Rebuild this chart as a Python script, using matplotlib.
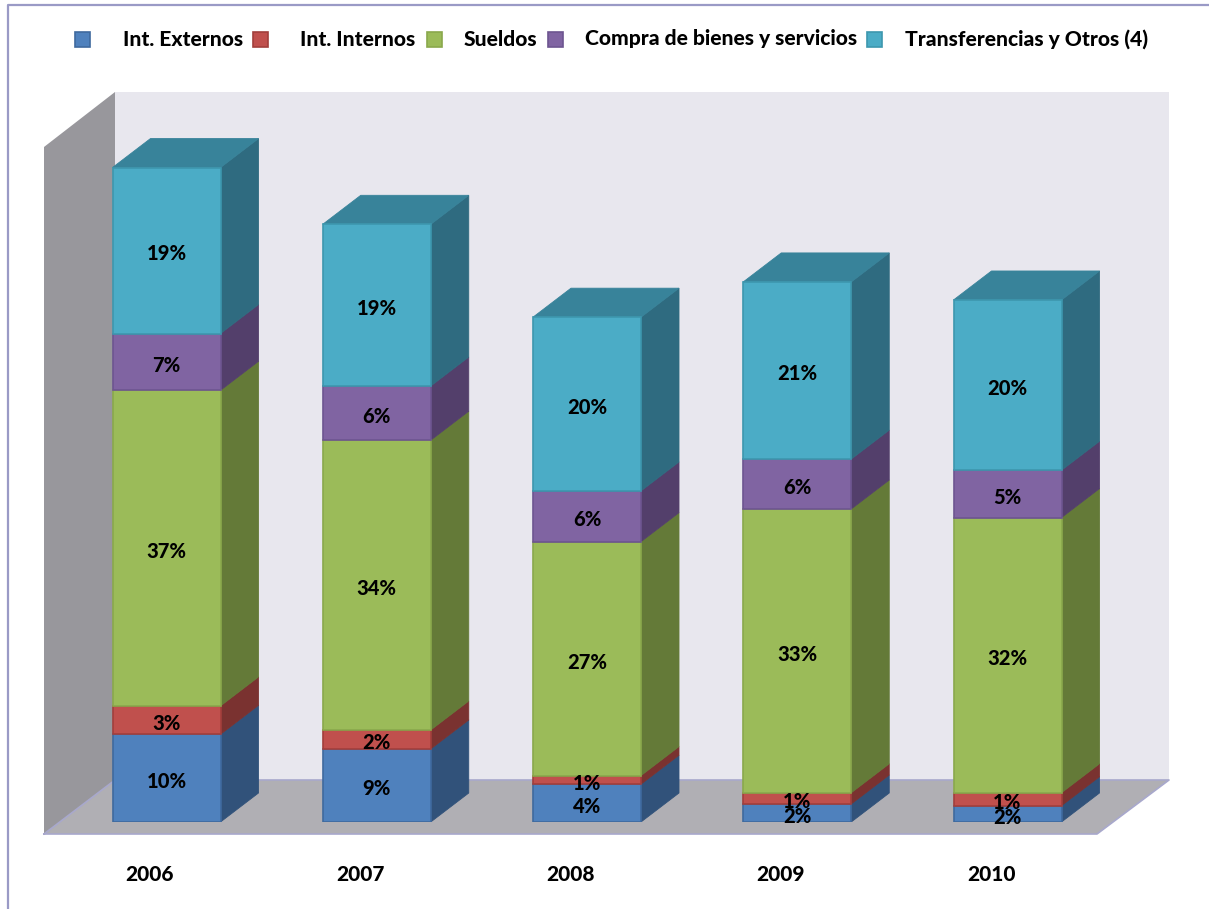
import matplotlib
matplotlib.use("Agg")
import matplotlib.pyplot as plt
from matplotlib.patches import Polygon, Rectangle
from matplotlib.transforms import ScaledTranslation
from matplotlib.lines import Line2D

years = ["2006", "2007", "2008", "2009", "2010"]
series_names = ["Int. Externos", "Int. Internos", "Sueldos",
                "Compra de bienes y servicios", "Transferencias y Otros (4)"]
int_externos = [10.2, 8.5, 4.4, 2.1, 1.9]
int_internos = [3.3, 2.2, 1.0, 1.3, 1.5]
sueldos = [36.7, 33.7, 27.2, 33.0, 32.0]
compra = [6.6, 6.3, 5.9, 5.8, 5.5]
transferencias = [19.3, 18.8, 20.2, 20.6, 19.8]
label_externos = ["10%", "9%", "4%", "2%", "2%"]
label_internos = ["3%", "2%", "1%", "1%", "1%"]
label_sueldos = ["37%", "34%", "27%", "33%", "32%"]
label_compra = ["7%", "6%", "6%", "6%", "5%"]
label_transfer = ["19%", "19%", "20%", "21%", "20%"]

series = [int_externos, int_internos, sueldos, compra, transferencias]
labels = [label_externos, label_internos, label_sueldos, label_compra, label_transfer]
front = ["#4f81bd", "#c0504d", "#9bbb59", "#8064a2", "#4bacc6"]
edge = ["#3f6a9e", "#a23f3c", "#8aa84c", "#6d5590", "#3d97ae"]
side = ["#31527a", "#7a3230", "#647a38", "#533f6b", "#2f6b80"]
top_col = "#38839a"

W, H = 1209, 909
FONT = "Lato"
WEIGHT = 900
fig = plt.figure(figsize=(W / 100, H / 100), dpi=100, facecolor="white")

# background layer in pixel coordinates: frame, walls, floor, legend
bg = fig.add_axes([0, 0, 1, 1])
bg.set_xlim(0, W)
bg.set_ylim(H, 0)
bg.axis("off")
frame = "#9a9ac6"
bg.add_line(Line2D([7.5, 7.5, W], [H, 5, 5], color=frame, lw=1.6))
bg.add_patch(Polygon([(115, 92), (1169, 92), (1169, 780), (115, 780)], fc="#e8e7ee", ec="none"))
bg.add_patch(Polygon([(44, 147), (115, 92), (115, 780), (44, 834)], fc="#98979c", ec="none"))
bg.add_patch(Polygon([(44, 834), (115, 780), (1169, 780), (1097, 834)], fc="#b0afb4", ec="none"))
bg.add_line(Line2D([44, 1097, 1169, 115, 44], [834, 834, 780, 780, 834], color="#a8a8cc", lw=1.2))

legend_sq = [75, 253, 427, 548, 867]
legend_tx = [123, 300, 464, 585, 905]
for sx, tx, name, f, e in zip(legend_sq, legend_tx, series_names, front, edge):
    bg.add_patch(Rectangle((sx, 32), 15, 15, fc=f, ec=e, lw=1.2))
    bg.text(tx, 45.5, name, fontfamily=FONT, fontweight=WEIGHT, fontsize=15.1,
            va="baseline", ha="left", color="black")

# chart layer: y is percent, x is category index
PX_Y = 8.6
PX_X = 210.25
y0_px, y1_px = 822, 60
ax = fig.add_axes([0, 1 - y0_px / H, 1, (y0_px - y1_px) / H], facecolor="none")
ax.set_xlim(-166.5 / PX_X, (W - 166.5) / PX_X)
ax.set_ylim(0, (y0_px - y1_px) / PX_Y)
for s in ax.spines.values():
    s.set_visible(False)
ax.set_yticks([])
ax.set_xticks(range(len(years)))
ax.set_xticklabels(years, fontfamily=FONT, fontweight=WEIGHT, fontsize=15)
ax.tick_params(axis="x", length=0, pad=31)
shift = ScaledTranslation(-16.5 / 100, 0, fig.dpi_scale_trans)
for t in ax.get_xticklabels():
    t.set_transform(t.get_transform() + shift)

half = 54 / PX_X
dx = 38 / PX_X
dy = 29 / PX_Y
for i in range(len(years)):
    base = 0.0
    for k, vals in enumerate(series):
        v = vals[i]
        l, r = i - half, i + half
        ax.add_patch(Polygon([(r, base), (r + dx, base + dy), (r + dx, base + v + dy), (r, base + v)],
                             fc=side[k], ec=side[k], lw=0.6, zorder=2))
        ax.add_patch(Rectangle((l, base), r - l, v, fc=front[k], ec=edge[k], lw=1.2, zorder=3))
        ax.text(i, base + v / 2 - 0.4, labels[k][i], fontfamily=FONT, fontweight=WEIGHT,
                fontsize=14.5, ha="center", va="center", color="black", zorder=5)
        base += v
    ax.add_patch(Polygon([(i - half, base), (i - half + dx, base + dy), (i + half + dx, base + dy), (i + half, base)],
                         fc=top_col, ec=top_col, lw=0.6, zorder=2))

fig.savefig("out.png", dpi=100, facecolor="white")
